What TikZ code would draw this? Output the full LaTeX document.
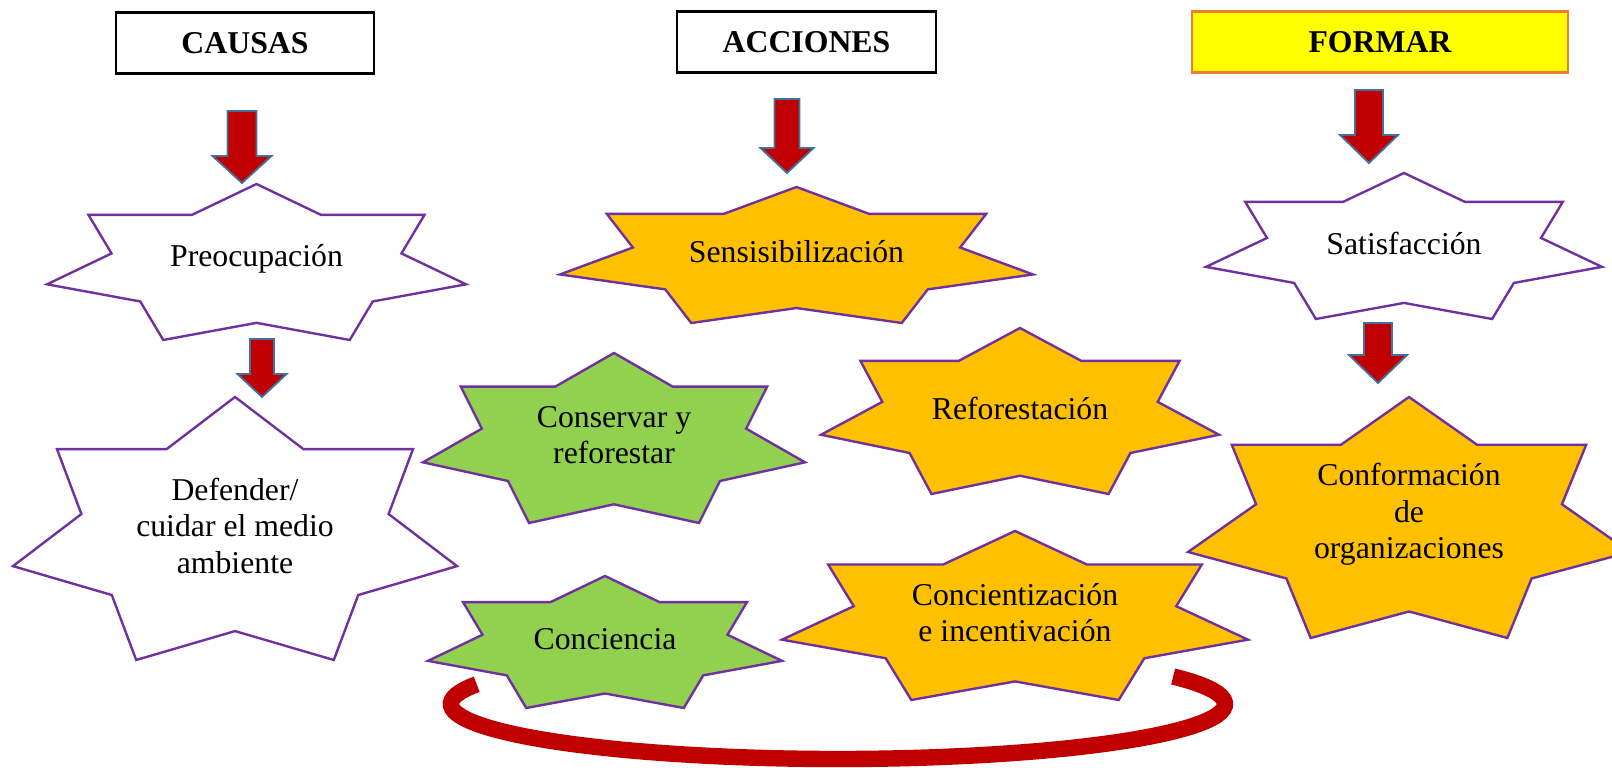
\documentclass[tikz,border=0pt]{standalone}
\usepackage{fontspec}
\setmainfont{Liberation Serif}
\usetikzlibrary{positioning}

\definecolor{morado}{HTML}{7030A0}
\definecolor{naranja}{HTML}{FFC000}
\definecolor{verde}{HTML}{92D050}
\definecolor{rojo}{HTML}{C00000}
\definecolor{azulborde}{HTML}{41719C}
\definecolor{bordenaranja}{HTML}{ED7D31}
\definecolor{amarillo}{HTML}{FFFF00}

\tikzset{
  texto/.style={font=\fontsize{12}{13.8}\selectfont, align=center, inner sep=0pt},
  titulo/.style={draw=black, line width=0.9pt, font=\fontsize{12}{13.8}\selectfont\bfseries,
                 minimum height=61*0.378pt, inner sep=0pt},
  estrella/.style={draw=morado, line width=0.9pt, line join=miter},
  flecha/.style={draw=azulborde, fill=rojo, line width=0.7pt, line join=miter},
  arco/.style={draw=rojo, line width=6.2pt}
}

% estrella de 7 puntas: nombre, x izq, y sup, ancho, alto, relleno, texto
\newcommand{\estrella}[7]{%
  \pgfmathsetmacro{\ecx}{#2+#4/2}
  \pgfmathsetmacro{\ecy}{#3+1.0521*#5/2}
  \pgfmathsetmacro{\erx}{1.02572*#4/2}
  \pgfmathsetmacro{\ery}{1.0521*#5/2}
  \pgfmathsetmacro{\ety}{#3+#5/2-3}
  \draw[estrella, fill=#6] plot[samples at={0,...,13}, variable=\k]
    ({\ecx+ifthenelse(mod(\k,2)==0,1,0.692)*\erx*cos(90+\k*180/7)},
     {\ecy-ifthenelse(mod(\k,2)==0,1,0.692)*\ery*sin(90+\k*180/7)}) -- cycle;
  \node[texto] (#1) at (\ecx,\ety) {#7};
}

% flecha de bloque hacia abajo: x, y cola, y punta, medio cuerpo, media punta, y base punta
\newcommand{\flecha}[6]{%
  \draw[flecha] (#1-#4,#2) -- (#1+#4,#2) -- (#1+#4,#6) -- (#1+#5,#6)
    -- (#1,#3) -- (#1-#5,#6) -- (#1-#4,#6) -- cycle;
}

\begin{document}
\begin{tikzpicture}[x=0.378pt, y=-0.378pt]
\useasboundingbox (0,0) rectangle (1612,768);
\clip (0,0) rectangle (1612,768);

% encabezados
\node[titulo, minimum width=258*0.378pt] (causas) at (245,43) {CAUSAS};
\node[titulo, minimum width=259*0.378pt] (acciones) at (806.5,42) {ACCIONES};
\node[titulo, draw=bordenaranja, fill=amarillo, minimum width=376*0.378pt] (formar) at (1380,42) {FORMAR};

% arco inferior
\draw[arco] (838,704) ++(-159:387 and 55) arc[start angle=-159, end angle=-390, x radius=387, y radius=55];

% columna causas
\estrella{preocupacion}{47}{184}{419}{156}{white}{Preocupación}
\estrella{defender}{13}{397}{444}{263}{white}{Defender/\\cuidar el medio\\ambiente}

% columna acciones
\estrella{sensibilizacion}{560}{187}{473}{136}{naranja}{Sensisibilización}
\estrella{conservar}{423}{353}{382}{170}{verde}{Conservar y\\reforestar}
\estrella{reforestacion}{821}{328}{398}{166}{naranja}{Reforestación}
\estrella{conciencia}{428}{576}{354}{132}{verde}{Conciencia}
\estrella{concientizacion}{782}{531}{466}{169}{naranja}{Concientización\\e incentivación}

% columna formar
\estrella{satisfaccion}{1206}{173}{396}{146}{white}{Satisfacción}
\estrella{conformacion}{1188}{397}{442}{241}{naranja}{Conformación\\de\\organizaciones}

% flechas
\flecha{242}{111}{183}{14.5}{29.5}{156}
\flecha{262}{339}{397}{12}{24.5}{374}
\flecha{787}{99}{173}{12.5}{26.5}{148}
\flecha{1369}{90}{163}{14}{29}{135}
\flecha{1378}{323}{383}{14}{29}{355}
\end{tikzpicture}
\end{document}
